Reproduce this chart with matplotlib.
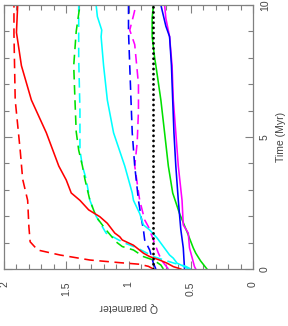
import matplotlib
matplotlib.use('Agg')
import matplotlib.pyplot as plt
from matplotlib.ticker import MultipleLocator

# time (Myr) and Q parameter for each run
red_dash_t = [0, 0.1, 0.18, 0.24, 0.34, 0.53, 0.72, 1.03, 1.6, 2.6, 3.4, 4.5, 6.4, 8.9, 10]
red_dash_q = [0.80, 0.84, 0.91, 1.07, 1.31, 1.55, 1.73, 1.79, 1.80, 1.81, 1.85, 1.87, 1.91, 1.92, 1.92]

red_t = [0, 0.09, 0.22, 0.34, 0.47, 0.6, 0.9, 1.1, 1.22, 1.36, 1.73, 1.98, 2.24, 2.6, 2.88, 3.37, 3.9, 5.16, 6.4, 7.7, 8.96, 10]
red_q = [0.58, 0.64, 0.69, 0.75, 0.83, 0.88, 0.96, 1.05, 1.07, 1.11, 1.17, 1.23, 1.32, 1.39, 1.46, 1.50, 1.56, 1.66, 1.78, 1.86, 1.90, 1.89]

green_dash_t = [0, 0.15, 0.34, 0.47, 0.72, 0.85, 1.03, 1.48, 1.98, 2.6, 3.4, 3.9, 4.5, 5.2, 6.4, 7.7, 9.0, 10]
green_dash_q = [0.72, 0.74, 0.80, 0.88, 0.96, 1.05, 1.10, 1.18, 1.26, 1.31, 1.35, 1.37, 1.40, 1.42, 1.43, 1.44, 1.42, 1.39]

cyan_dash_t = [0, 0.1, 0.2, 0.35, 0.47, 0.8, 1.0, 1.36, 2.0, 2.6, 3.4, 3.9, 4.5, 6.0, 8.0, 10]
cyan_dash_q = [0.50, 0.54, 0.62, 0.72, 0.80, 0.93, 1.04, 1.18, 1.26, 1.31, 1.34, 1.37, 1.39, 1.39, 1.40, 1.40]

cyan_t = [0, 0.09, 0.22, 0.41, 0.53, 0.85, 1.17, 1.48, 1.67, 2.1, 2.6, 2.88, 3.9, 5.16, 6.4, 7.7, 8.8, 9.05, 9.56, 10]
cyan_q = [0.52, 0.55, 0.61, 0.64, 0.67, 0.72, 0.77, 0.83, 0.88, 0.91, 0.96, 0.97, 1.03, 1.12, 1.17, 1.20, 1.22, 1.215, 1.25, 1.26]

blue_dash_t = [0, 0.22, 0.72, 1.1, 1.48, 2.0, 2.6, 3.9, 5.16, 6.4, 7.7, 9.0, 10]
blue_dash_q = [0.78, 0.80, 0.83, 0.87, 0.88, 0.90, 0.92, 0.95, 0.97, 0.98, 0.99, 1.00, 1.00]

mag_dash_t = [0, 0.3, 0.6, 1.1, 1.6, 1.86, 2.6, 3.9, 4.8, 6.0, 7.0, 8.5, 9.05, 9.6, 10]
mag_dash_q = [0.68, 0.73, 0.76, 0.80, 0.84, 0.87, 0.91, 0.95, 0.93, 0.92, 0.92, 0.95, 0.99, 0.96, 0.94]

blue_t = [0, 0.8, 1.5, 2.6, 3.9, 5.16, 6.4, 7.7, 8.8, 9.2, 9.6, 10]
blue_q = [0.55, 0.56, 0.58, 0.60, 0.62, 0.635, 0.645, 0.655, 0.67, 0.70, 0.72, 0.74]

mag_t = [0, 0.09, 0.8, 1.36, 1.67, 2.6, 3.9, 5.16, 6.4, 7.7, 8.8, 9.5, 10]
mag_q = [0.46, 0.47, 0.51, 0.52, 0.56, 0.57, 0.60, 0.62, 0.64, 0.65, 0.67, 0.70, 0.71]

green_t = [0, 0.3, 0.6, 0.8, 1.41, 2.1, 2.88, 3.9, 5.16, 6.4, 7.7, 8.0, 8.8, 9.5, 10]
green_q = [0.37, 0.42, 0.46, 0.48, 0.53, 0.59, 0.645, 0.68, 0.71, 0.74, 0.78, 0.79, 0.81, 0.81, 0.80]

ref_t = [0, 10]
ref_q = [0.8, 0.8]

q_ticks = [0, 0.5, 1, 1.5, 2]
q_labels = ['0', '0.5', '1', '1.5', '2']
t_ticks = [0, 5, 10]
t_labels = ['0', '5', '10']

plt.rcParams['font.family'] = ['Liberation Sans', 'DejaVu Sans']
txt = '#444444'
axc = '#808080'

fig = plt.figure(figsize=(2.88, 3.26), dpi=100)
ax = fig.add_axes([4 / 288, 57 / 326, 249 / 288, 264 / 326])

lw = 1.15
dash = (6, 3.5)
ax.plot(ref_q, ref_t, color='black', lw=2.0, linestyle=(0, (0.05, 1.8)),
        dash_capstyle='round', zorder=5)
ax.plot(green_q, green_t, color='#00e000', lw=lw)
ax.plot(mag_q, mag_t, color='#ff00ff', lw=lw)
ax.plot(blue_q, blue_t, color='#0000ff', lw=lw)
ax.plot(mag_dash_q, mag_dash_t, color='#ff00ff', lw=lw, dashes=dash)
ax.plot(blue_dash_q, blue_dash_t, color='#0000ff', lw=lw, dashes=dash)
ax.plot(cyan_q, cyan_t, color='#00ffff', lw=lw)
ax.plot(cyan_dash_q, cyan_dash_t, color='#00ffff', lw=lw, dashes=dash)
ax.plot(green_dash_q, green_dash_t, color='#00e000', lw=lw, dashes=dash)
ax.plot(red_q, red_t, color='#ff0000', lw=lw)
ax.plot(red_dash_q, red_dash_t, color='#ff0000', lw=lw, dashes=dash)

ax.set_xlim(2, 0)
ax.set_ylim(0, 10)
ax.set_xticks(q_ticks)
ax.set_xticklabels(q_labels, rotation=90)
ax.xaxis.set_minor_locator(MultipleLocator(0.1))
ax.set_yticks(t_ticks)
ax.set_yticklabels(t_labels, rotation=90, va='center')
ax.yaxis.set_minor_locator(MultipleLocator(1))

ax.yaxis.tick_right()
ax.yaxis.set_label_position('right')
ax.tick_params(which='both', direction='in', top=True, bottom=True,
               left=True, right=True, labelleft=False, labelright=True,
               color=axc, labelcolor=txt, labelsize=7.5, width=0.8)
ax.tick_params(which='major', length=6)
ax.tick_params(which='minor', length=3.5)
ax.tick_params(axis='x', pad=9)
ax.tick_params(axis='y', pad=5)
for s in ax.spines.values():
    s.set_color(axc)
    s.set_linewidth(0.9)

ax.set_xlabel('Q parameter', rotation=180, color=txt, fontsize=7.5, labelpad=4)
ax.set_ylabel('Time (Myr)', rotation=90, color=txt, fontsize=7.5, labelpad=4)

fig.savefig('out.png', dpi=100)
